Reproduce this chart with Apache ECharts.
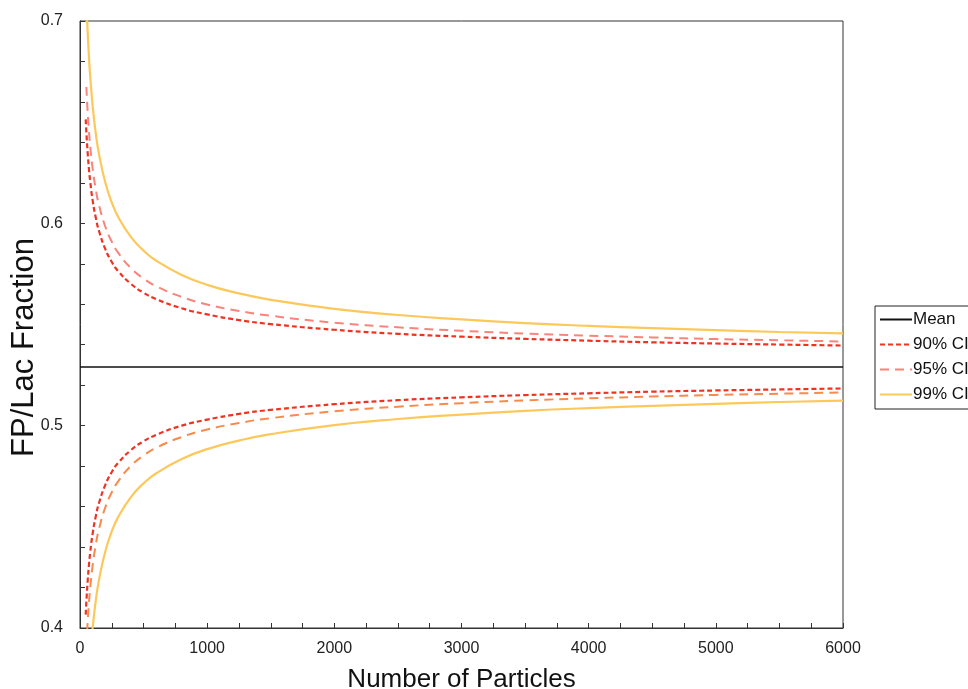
<!DOCTYPE html>
<html>
<head>
<meta charset="utf-8">
<script src="https://cdn.jsdelivr.net/npm/echarts@6/dist/echarts.min.js"></script>
<style>
    html, body { margin: 0; padding: 0; background: #fff; }
    #main { width: 968px; height: 689px; }
</style>
</head>
<body>
<div id="main"></div>
<script>
    // number of particles
    const particles = [45, 50, 60, 70, 80, 100, 125, 150, 200, 250, 300, 400, 500, 600, 800, 1000,
        1250, 1500, 2000, 2500, 3000, 3500, 4000, 4500, 5000, 5500, 6000];

    const meanX = [0, 6000];
    const meanY = [0.529, 0.529];

    const upper90 = [0.6514, 0.6451, 0.6350, 0.6271, 0.6208, 0.6111, 0.6025, 0.5961, 0.5871, 0.5809, 0.5764, 0.5701,
        0.5657, 0.5625, 0.5580, 0.5550, 0.5522, 0.5502, 0.5474, 0.5454, 0.5440, 0.5429, 0.5420, 0.5412, 0.5406, 0.5401, 0.5396];
    const lower90 = [0.4066, 0.4129, 0.4230, 0.4309, 0.4372, 0.4469, 0.4555, 0.4619, 0.4709, 0.4771, 0.4816, 0.4879,
        0.4923, 0.4955, 0.5000, 0.5030, 0.5058, 0.5078, 0.5106, 0.5126, 0.5140, 0.5151, 0.5160, 0.5168, 0.5174, 0.5179, 0.5184];
    const upper95 = [null, 0.6674, 0.6553, 0.6459, 0.6384, 0.6268, 0.6165, 0.6089, 0.5982, 0.5909, 0.5855, 0.5779,
        0.5727, 0.5689, 0.5636, 0.5599, 0.5567, 0.5543, 0.5509, 0.5486, 0.5469, 0.5455, 0.5445, 0.5436, 0.5428, 0.5422, 0.5416];
    const lower95 = [0.3832, 0.3906, 0.4027, 0.4121, 0.4196, 0.4312, 0.4415, 0.4491, 0.4598, 0.4671, 0.4725, 0.4801,
        0.4853, 0.4891, 0.4944, 0.4981, 0.5013, 0.5037, 0.5071, 0.5094, 0.5111, 0.5125, 0.5135, 0.5144, 0.5152, 0.5158, 0.5164];
    const upper99 = [0.7207, 0.7108, 0.6950, 0.6827, 0.6728, 0.6576, 0.6440, 0.6340, 0.6199, 0.6103, 0.6032, 0.5933,
        0.5865, 0.5815, 0.5745, 0.5696, 0.5654, 0.5622, 0.5577, 0.5547, 0.5525, 0.5507, 0.5493, 0.5482, 0.5472, 0.5463, 0.5456];
    const lower99 = [0.3373, 0.3472, 0.3630, 0.3753, 0.3852, 0.4004, 0.4140, 0.4240, 0.4381, 0.4477, 0.4548, 0.4647,
        0.4715, 0.4765, 0.4835, 0.4884, 0.4926, 0.4958, 0.5003, 0.5033, 0.5055, 0.5073, 0.5087, 0.5098, 0.5108, 0.5117, 0.5124];

    const legendNames = ['Mean', '90% CI', '95% CI', '99% CI'];

    function pairs(xs, ys) {
        return xs.map(function (x, i) { return [x, ys[i]]; });
    }

    function curve(name, ys, color, type, width) {
        return {
            name: name,
            type: 'line',
            data: pairs(particles, ys),
            symbol: 'none',
            smooth: true,
            clip: true,
            lineStyle: { color: color, width: width, type: type },
            itemStyle: { color: color }
        };
    }

    const font = 'Liberation Sans, Arial, sans-serif';
    const myChart = echarts.init(document.getElementById('main'));

    const option = {
        animation: false,
        textStyle: { fontFamily: font },
        grid: {
            left: 80, top: 21, right: 125, bottom: 61,
            outerBoundsMode: 'none',
            containLabel: false,
            show: true, borderColor: '#333', borderWidth: 1
        },
        legend: {
            data: legendNames,
            orient: 'vertical',
            left: 875,
            top: 306,
            padding: [5, 6, 6, 4],
            itemGap: 8,
            itemWidth: 32,
            itemHeight: 17,
            borderColor: '#222',
            borderWidth: 1,
            itemStyle: { opacity: 0 },
            textStyle: { fontSize: 17, color: '#111', fontFamily: font, padding: [0, 0, 0, -4] }
        },
        xAxis: {
            type: 'value',
            min: 0, max: 6000, interval: 1000,
            name: 'Number of Particles',
            nameLocation: 'middle',
            nameGap: 39,
            nameTextStyle: { fontSize: 26, color: '#111', fontFamily: font },
            axisLine: { lineStyle: { color: '#333', width: 1 } },
            axisTick: { inside: true, length: 5, lineStyle: { color: '#333' } },
            minorTick: { show: true, splitNumber: 4, length: 5, lineStyle: { color: '#333' } },
            axisLabel: {
                fontSize: 16, color: '#222', margin: 13,
                formatter: function (v) { return String(v); }
            },
            splitLine: { show: false }
        },
        yAxis: {
            type: 'value',
            min: 0.4, max: 0.7, interval: 0.1,
            name: 'FP/Lac Fraction',
            nameLocation: 'middle',
            nameGap: 40,
            nameMoveOverlap: false,
            nameTextStyle: { fontSize: 31, color: '#111', fontFamily: font, padding: [0, 46, 0, 0] },
            axisLine: { show: true, lineStyle: { color: '#333', width: 1 } },
            axisTick: { show: true, inside: true, length: 5, lineStyle: { color: '#333' } },
            minorTick: { show: true, splitNumber: 5, length: 5, lineStyle: { color: '#333' } },
            axisLabel: {
                fontSize: 16, color: '#222', margin: 17,
                formatter: function (v) { return v.toFixed(1); }
            },
            splitLine: { show: false }
        },
        series: [
            {
                name: 'Mean',
                type: 'line',
                data: pairs(meanX, meanY),
                symbol: 'none',
                lineStyle: { color: '#111', width: 1.5 },
                itemStyle: { color: '#111' }
            },
            curve('90% CI', upper90, '#ee3322', [5, 3], 2.2),
            curve('90% CI', lower90, '#ee3322', [5, 3], 2.2),
            curve('95% CI', upper95, '#f7857b', [9, 6], 2),
            curve('95% CI lower', lower95, '#f88a4c', [9, 6], 2),
            curve('99% CI', upper99, '#fdc85a', 'solid', 2.2),
            curve('99% CI', lower99, '#fdc85a', 'solid', 2.2)
        ]
    };
    myChart.setOption(option);
</script>
</body>
</html>
